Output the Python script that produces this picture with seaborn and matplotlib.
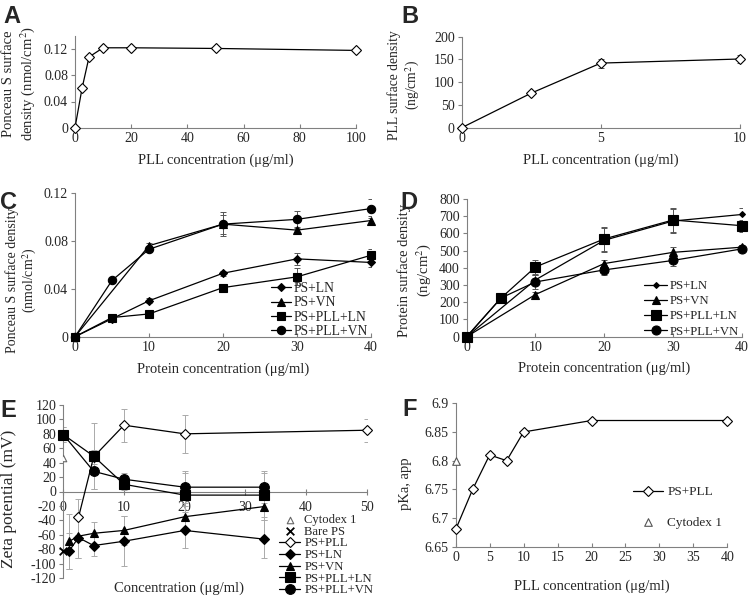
import numpy as np
import pandas as pd
import matplotlib
matplotlib.use("Agg")
import matplotlib.pyplot as plt
from matplotlib.ticker import FuncFormatter
import seaborn as sns

# ---- datos ----
# A: Ponceau S vs PLL
a_x = [0, 2.5, 5, 10, 20, 50, 100]
a_y = [0, 0.06, 0.108, 0.122, 0.122, 0.121, 0.118]

# B: PLL surface density
b_x = [0, 2.5, 5, 10]
b_y = [0, 76, 142, 151]
b_err = [2, 4, 10, 9]

# C: Ponceau S vs protein
c_x = [0, 5, 10, 20, 30, 40]
c_vn_x = [0, 10, 20, 30, 40]
c_ln = [0, 0.015, 0.030, 0.053, 0.065, 0.062]
c_ln_err = [0, 0.002, 0.002, 0.002, 0.005, 0.004]
c_vn = [0, 0.076, 0.094, 0.089, 0.097]
c_vn_err = [0, 0.002, 0.008, 0.003, 0.004]
c_pll_ln = [0, 0.016, 0.019, 0.041, 0.050, 0.068]
c_pll_ln_err = [0, 0.002, 0.001, 0.002, 0.007, 0.005]
c_pll_vn = [0, 0.047, 0.073, 0.094, 0.098, 0.107]
c_pll_vn_err = [0, 0.001, 0.002, 0.010, 0.007, 0.008]

# D: protein surface density
d_x = [0, 5, 10, 20, 30, 40]
d_ln_x = [0, 10, 20, 30, 40]
d_ln = [0, 330, 560, 672, 710]
d_ln_err = [0, 30, 70, 70, 40]
d_vn_x = [0, 10, 20, 30, 40]
d_vn = [0, 245, 425, 490, 520]
d_vn_err = [0, 15, 20, 30, 15]
d_pll_ln = [0, 225, 405, 568, 678, 645]
d_pll_ln_err = [0, 15, 40, 70, 70, 35]
d_pll_vn = [0, 225, 318, 388, 443, 510]
d_pll_vn_err = [0, 15, 40, 30, 30, 10]

# E: zeta potential
e_cyto_x, e_cyto_y = [0], [46]
e_bare_x, e_bare_y = [0], [-83]
e_pll_x = [2.5, 5, 10, 20, 50]
e_pll = [-36, 48, 92, 80, 85]
e_pll_err = [25, 10, 23, 26, 16]
e_ln_x = [1, 2.5, 5, 10, 20, 33]
e_ln = [-82, -64, -75, -69, -54, -66]
e_ln_err = [25, 28, 15, 35, 25, 26]
e_vn_x = [1, 2.5, 5, 10, 20, 33]
e_vn = [-69, -62, -58, -54, -35, -21]
e_vn_err = [38, 30, 15, 20, 15, 18]
e_pp_x = [0, 5, 10, 20, 33]
e_pll_ln = [79, 49, 10, -5, -5]
e_pll_ln_err = [10, 46, 8, 30, 30]
e_pll_vn = [79, 28, 17, 6, 6]
e_pll_vn_err = [10, 25, 8, 22, 22]

# F: pKa
f_x = [0, 2.5, 5, 7.5, 10, 20, 40]
f_y = [6.68, 6.75, 6.81, 6.80, 6.85, 6.87, 6.87]
f_cyto_x, f_cyto_y = [0], [6.80]

# ---- estilo ----
sns.set_style("ticks")
plt.rcParams["font.family"] = ["Liberation Serif", "DejaVu Serif"]
plt.rcParams["mathtext.fontset"] = "stix"

W, H = 750, 597
fig = plt.figure(figsize=(7.5, 5.97), dpi=100)


def make_ax(x0, y0, x1, y1):
    # caja en pixeles (arriba-izquierda, abajo-derecha)
    return fig.add_axes([x0 / W, 1 - y1 / H, (x1 - x0) / W, (y1 - y0) / H])


def style(ax):
    sns.despine(ax=ax)
    for s in ["left", "bottom"]:
        ax.spines[s].set_color("#808080")
        ax.spines[s].set_linewidth(0.8)
    ax.tick_params(axis="y", direction="out", length=3, color="#808080", labelsize=10, pad=2)
    ax.tick_params(axis="x", direction="in", length=3, color="#808080", labelsize=10, pad=3)
    ax.yaxis.set_major_formatter(FuncFormatter(lambda v, p: "%g" % round(v, 4)))


def serie(ax, x, y, marker, ms, fill="black", label=None, err=None, ecol="#555555"):
    if err is not None:
        ax.errorbar(x, y, yerr=err, fmt="none", ecolor=ecol, elinewidth=0.7, capsize=2, capthick=0.7, zorder=1)
    sns.lineplot(x=x, y=y, ax=ax, color="black", lw=0.9, marker=marker, markersize=ms,
                 markerfacecolor=fill, markeredgecolor="black", markeredgewidth=0.8,
                 label=label, clip_on=False, zorder=3, legend=False)


def leg(ax, x, y, **kw):
    h, l = ax.get_legend_handles_labels()
    ax.legend(h, l, loc="upper left", bbox_to_anchor=(x / W, 1 - y / H), bbox_transform=fig.transFigure,
              frameon=False, borderpad=0, borderaxespad=0, **kw)


def letra(x, y, t):
    fig.text(x / W, 1 - y / H, t, fontsize=17, fontweight="bold", family="Liberation Sans", va="top", ha="left")


# ---- A ----
ax = make_ax(75, 36, 356, 127.7)
serie(ax, a_x, a_y, "D", 5, fill="white")
ax.set_xlim(0, 100)
ax.set_ylim(0, 0.14)
ax.set_xticks(np.arange(0, 101, 20))
ax.set_yticks([0, 0.04, 0.08, 0.12])
style(ax)
ax.set_xlabel("PLL concentration (μg/ml)", fontsize=10.5)
ax.set_ylabel("Ponceau S surface\ndensity (nmol/cm$^2$)", fontsize=10.5)
ax.xaxis.set_label_coords(0.5, -0.28)
ax.yaxis.set_label_coords(-0.135, 0.48)
letra(3, 5, "A")

# ---- B ----
ax = make_ax(461.7, 36.7, 740, 127.7)
serie(ax, b_x, b_y, "D", 5, fill="white", err=b_err)
ax.set_xlim(0, 10)
ax.set_ylim(0, 200)
ax.set_xticks([0, 5, 10])
ax.set_yticks(np.arange(0, 201, 50))
style(ax)
ax.set_xlabel("PLL concentration (μg/ml)", fontsize=10.5)
ax.set_ylabel("PLL surface density\n(ng/cm$^2$)", fontsize=9.8)
ax.xaxis.set_label_coords(0.5, -0.28)
ax.yaxis.set_label_coords(-0.144, 0.47)
letra(401, 5, "B")

# ---- C ----
ax = make_ax(75, 193, 371, 336.7)
serie(ax, c_x, c_ln, "D", 4, label="PS+LN", err=c_ln_err)
serie(ax, c_vn_x, c_vn, "^", 5.5, label="PS+VN", err=c_vn_err)
serie(ax, c_x, c_pll_ln, "s", 5.5, label="PS+PLL+LN", err=c_pll_ln_err)
serie(ax, c_x, c_pll_vn, "o", 6, label="PS+PLL+VN", err=c_pll_vn_err)
ax.set_xlim(0, 40)
ax.set_ylim(0, 0.12)
ax.set_xticks(np.arange(0, 41, 10))
ax.set_yticks([0, 0.04, 0.08, 0.12])
style(ax)
ax.set_xlabel("Protein concentration (μg/ml)", fontsize=10.5)
ax.set_ylabel("Ponceau S surface density\n(nmol/cm$^2$)", fontsize=10)
ax.xaxis.set_label_coords(0.5, -0.18)
ax.yaxis.set_label_coords(-0.12, 0.39)
leg(ax, 271, 282, fontsize=9.8, handlelength=1.5, handletextpad=0.2, labelspacing=0.1)
letra(0, 191, "C")

# ---- D ----
ax = make_ax(466.7, 199, 741.7, 336.7)
serie(ax, d_ln_x, d_ln, "D", 3, label="PS+LN", err=d_ln_err)
serie(ax, d_vn_x, d_vn, "^", 5.5, label="PS+VN", err=d_vn_err)
serie(ax, d_x, d_pll_ln, "s", 6.5, label="PS+PLL+LN", err=d_pll_ln_err)
serie(ax, d_x, d_pll_vn, "o", 6.5, label="PS+PLL+VN", err=d_pll_vn_err)
ax.set_xlim(0, 40)
ax.set_ylim(0, 800)
ax.set_xticks(np.arange(0, 41, 10))
ax.set_yticks(np.arange(0, 801, 100))
style(ax)
ax.set_xlabel("Protein concentration (μg/ml)", fontsize=10.5)
ax.set_ylabel("Protein surface density\n(ng/cm$^2$)", fontsize=10.5)
ax.xaxis.set_label_coords(0.5, -0.18)
ax.yaxis.set_label_coords(-0.122, 0.48)
leg(ax, 644, 280, fontsize=9.2, handlelength=1.8, handletextpad=0.2, labelspacing=0.25)
letra(400, 191, "D")

# ---- E ----
ax = make_ax(63.3, 405, 366.7, 578)
sns.scatterplot(x=e_cyto_x, y=e_cyto_y, ax=ax, marker="^", s=22, color="white",
                edgecolor="#666666", linewidth=0.8, label="Cytodex 1", zorder=3, legend=False)
sns.scatterplot(x=e_bare_x, y=e_bare_y, ax=ax, marker="x", s=30, color="black",
                linewidth=1.3, label="Bare PS", zorder=3, legend=False, clip_on=False)
serie(ax, e_pll_x, e_pll, "D", 5, fill="white", label="PS+PLL", err=e_pll_err, ecol="#aaaaaa")
serie(ax, e_ln_x, e_ln, "D", 5, label="PS+LN", err=e_ln_err, ecol="#aaaaaa")
serie(ax, e_vn_x, e_vn, "^", 6, label="PS+VN", err=e_vn_err, ecol="#aaaaaa")
serie(ax, e_pp_x, e_pll_ln, "s", 7, label="PS+PLL+LN", err=e_pll_ln_err, ecol="#aaaaaa")
serie(ax, e_pp_x, e_pll_vn, "o", 7, label="PS+PLL+VN", err=e_pll_vn_err, ecol="#aaaaaa")
ax.set_xlim(0, 50)
ax.set_ylim(-120, 120)
ax.set_xticks(np.arange(0, 51, 10))
ax.set_yticks(np.arange(-120, 121, 20))
style(ax)
ax.spines["bottom"].set_position(("data", 0))
ax.tick_params(axis="x", direction="inout", length=5, pad=4)
ax.set_xlabel("Concentration (μg/ml)", fontsize=10.5)
ax.set_ylabel("Zeta potential (mV)", fontsize=12.5)
ax.xaxis.set_label_coords(0.38, -0.02)
ax.yaxis.set_label_coords(-0.153, 0.46)
leg(ax, 279, 514, fontsize=9.1, handlelength=1.7, handletextpad=0.3, labelspacing=-0.02)
letra(0, 399, "E")

# ---- F ----
ax = make_ax(455.7, 403.3, 727.3, 546.7)
serie(ax, f_x, f_y, "D", 5, fill="white", label="PS+PLL")
sns.scatterplot(x=f_cyto_x, y=f_cyto_y, ax=ax, marker="^", s=30, color="white",
                edgecolor="#555555", linewidth=0.8, label="Cytodex 1", zorder=3, legend=False, clip_on=False)
ax.set_xlim(0, 40)
ax.set_ylim(6.65, 6.9)
ax.set_xticks(np.arange(0, 41, 5))
ax.set_yticks([6.65, 6.7, 6.75, 6.8, 6.85, 6.9])
style(ax)
ax.set_xlabel("PLL concentration (μg/ml)", fontsize=10.5)
ax.set_ylabel("pKa, app", fontsize=10.5)
ax.xaxis.set_label_coords(0.5, -0.23)
ax.yaxis.set_label_coords(-0.16, 0.44)
leg(ax, 633, 486, fontsize=9.5, handlelength=2.3, handletextpad=0.3, labelspacing=1.4)
letra(402, 398, "F")

fig.savefig("out.png", dpi=100)
